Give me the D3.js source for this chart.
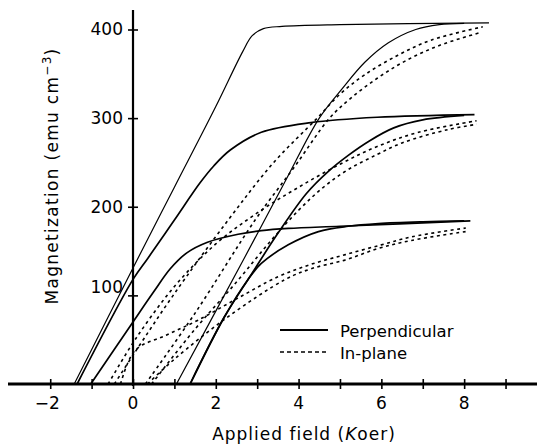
<!DOCTYPE html>
<html>
<head>
<meta charset="utf-8">
<script src="https://cdn.jsdelivr.net/npm/d3@7"></script>
<style>
  body { margin: 0; background: #fff; }
  svg text { font-family: "DejaVu Sans", sans-serif; fill: #000; }
</style>
</head>
<body>
<div id="chart"></div>
<script>
// field in kOe, magnetization in emu/cm^3
var xTicks = [-2, -1, 0, 1, 2, 3, 4, 5, 6, 7, 8, 9];
var xLabels = [-2, 0, 2, 4, 6, 8];
var yTicks = [100, 200, 300, 400];

// perpendicular loops (solid), descending and ascending branches
var perpA_desc = [[-1.42,0],[0,131],[1.0,222],[2.0,313],[2.65,375],[2.88,393],[3.15,401],[3.6,403.5],[5,405.5],[8.6,407.5]];
var perpA_asc  = [[1.05,0],[2.7,143],[3.68,229],[4.5,300],[5.05,333],[5.6,363],[6.17,385],[6.83,400],[7.4,405.5],[8.0,407]];
var perpB_desc = [[-1.35,0],[0,118],[0.36,142],[1.0,185],[1.62,227],[1.95,246],[2.35,264],[3.1,284],[4.3,295],[5.9,301],[8.25,304]];
var perpB_asc  = [[1.38,0],[2.2,75],[2.85,123],[3.5,170],[4.19,215],[4.72,240],[5.2,258],[5.7,274],[6.3,289],[7.0,298],[8.0,303]];
var perpC_desc = [[-1.02,0],[0,70],[0.5,104],[0.9,130],[1.3,148],[1.8,160],[2.54,169],[3.1,173],[3.75,175.5],[5,178],[8.15,184]];
var perpC_asc  = [[1.38,0],[2.2,75],[2.78,118],[3.1,136],[3.75,157],[4.48,172],[5.2,178],[5.93,181],[7.0,183],[8.0,184]];

// in-plane loops (dashed)
var inA_desc = [[-0.45,0],[0.05,36],[1.0,102],[2.3,185],[3.4,250],[4.45,300],[5.0,327],[5.6,349],[6.4,371],[7.2,388],[8.45,403]];
var inA_asc  = [[0.3,0],[1.5,80],[2.95,185],[3.9,245],[4.75,300],[5.25,322],[5.9,345],[6.6,365],[7.4,382],[8.35,396]];
var inB_desc = [[-0.6,0],[0.05,50],[1.0,110],[2.0,158],[3.0,193],[4.0,222],[5.0,248],[5.9,268],[6.9,284],[8.3,297]];
var inB_asc  = [[0.45,0],[1.5,62],[2.5,115],[3.3,160],[4.0,196],[4.6,222],[5.2,242],[5.9,259],[6.5,272],[7.6,287],[8.3,293]];
var inC_desc = [[-0.3,0],[0.05,38],[0.8,55],[1.57,72],[2.5,96],[3.5,121],[4.3,135],[5.13,146],[6.0,157],[6.73,166],[8.04,176]];
var inC_asc  = [[0.35,0],[1.0,28],[2.3,76],[3.68,118],[4.3,130],[5.13,140],[5.93,153],[6.73,162],[8.04,172]];

var solidSeries = [perpA_desc, perpA_asc, perpB_desc, perpB_asc, perpC_desc, perpC_asc];
var dashedSeries = [inA_desc, inA_asc, inB_desc, inB_asc, inC_desc, inC_asc];

var width = 537, height = 445;

var svg = d3.select("#chart").append("svg")
    .attr("width", width)
    .attr("height", height);

var x = d3.scaleLinear().domain([-3.02, 9.76]).range([8, 537]);
var y = d3.scaleLinear().domain([0, 422]).range([384, 10]);

var line = d3.line()
    .x(function (d) { return x(d[0]); })
    .y(function (d) { return y(d[1]); })
    .curve(d3.curveCatmullRom.alpha(0.5));

// curves
svg.selectAll(".solid")
    .data(solidSeries)
  .enter().append("path")
    .attr("class", "solid")
    .attr("d", line)
    .attr("fill", "none")
    .attr("stroke", "#000")
    .attr("stroke-width", function (d, i) { return i < 2 ? 1.2 : 1.7; });

svg.selectAll(".dashed")
    .data(dashedSeries)
  .enter().append("path")
    .attr("class", "dashed")
    .attr("d", line)
    .attr("fill", "none")
    .attr("stroke", "#000")
    .attr("stroke-width", 1.6)
    .attr("stroke-dasharray", "3,3.5");

// x axis
var xAxis = svg.append("g")
    .attr("transform", "translate(0," + y(0) + ")")
    .call(d3.axisBottom(x).tickValues(xTicks).tickSize(5).tickFormat(""));
xAxis.select(".domain").remove();
xAxis.selectAll(".tick line").attr("y1", -5).attr("y2", 5).attr("stroke-width", 1.6);
xAxis.append("line")
    .attr("x1", 8).attr("x2", 537)
    .attr("stroke", "#000").attr("stroke-width", 3);

svg.selectAll(".xlab")
    .data(xLabels)
  .enter().append("text")
    .attr("class", "xlab")
    .attr("x", function (d) { return x(d) - (d < 0 ? 3 : 0); })
    .attr("y", 409)
    .attr("text-anchor", "middle")
    .style("font-size", "17px")
    .text(function (d) { return d < 0 ? "\u2212" + Math.abs(d) : d; });

// y axis
var yAxis = svg.append("g")
    .attr("transform", "translate(" + x(0) + ",0)")
    .call(d3.axisLeft(y).tickValues(yTicks).tickSize(5).tickFormat(""));
yAxis.select(".domain").remove();
yAxis.selectAll(".tick line").attr("x1", -5).attr("x2", 5).attr("stroke-width", 1.6);
yAxis.append("line")
    .attr("y1", 10).attr("y2", 386)
    .attr("stroke", "#000").attr("stroke-width", 2.2);

svg.selectAll(".ylab")
    .data(yTicks)
  .enter().append("text")
    .attr("class", "ylab")
    .attr("x", x(0) - 10)
    .attr("y", function (d) { return y(d) + 6 - (d === 100 ? 8 : 0); })
    .attr("text-anchor", "end")
    .style("font-size", "17px")
    .text(function (d) { return d; });

// axis titles
svg.append("text")
    .attr("x", 304)
    .attr("y", 440)
    .attr("text-anchor", "middle")
    .style("font-size", "17px")
    .style("letter-spacing", "1px")
    .html("Applied field (<tspan font-style='italic'>K</tspan>oer)");

var yTitle = svg.append("text")
    .attr("transform", "translate(58,176) rotate(-90)")
    .attr("text-anchor", "middle")
    .style("font-size", "17px")
    .style("letter-spacing", "1.3px");
yTitle.append("tspan").text("Magnetization (emu cm");
yTitle.append("tspan").attr("dy", -7).style("font-size", "12px").text("\u22123");
yTitle.append("tspan").attr("dy", 7).text(")");

// legend
var legend = svg.append("g").attr("transform", "translate(280,330)");
legend.append("line").attr("x1", 0).attr("x2", 48).attr("y1", 0).attr("y2", 0)
    .attr("stroke", "#000").attr("stroke-width", 2);
legend.append("text").attr("x", 60).attr("y", 7).style("font-size", "16.5px")
    .text("Perpendicular");
legend.append("line").attr("x1", 0).attr("x2", 48).attr("y1", 22).attr("y2", 22)
    .attr("stroke", "#000").attr("stroke-width", 1.6).attr("stroke-dasharray", "4,3");
legend.append("text").attr("x", 60).attr("y", 29).style("font-size", "16.5px")
    .text("In-plane");
</script>
</body>
</html>
